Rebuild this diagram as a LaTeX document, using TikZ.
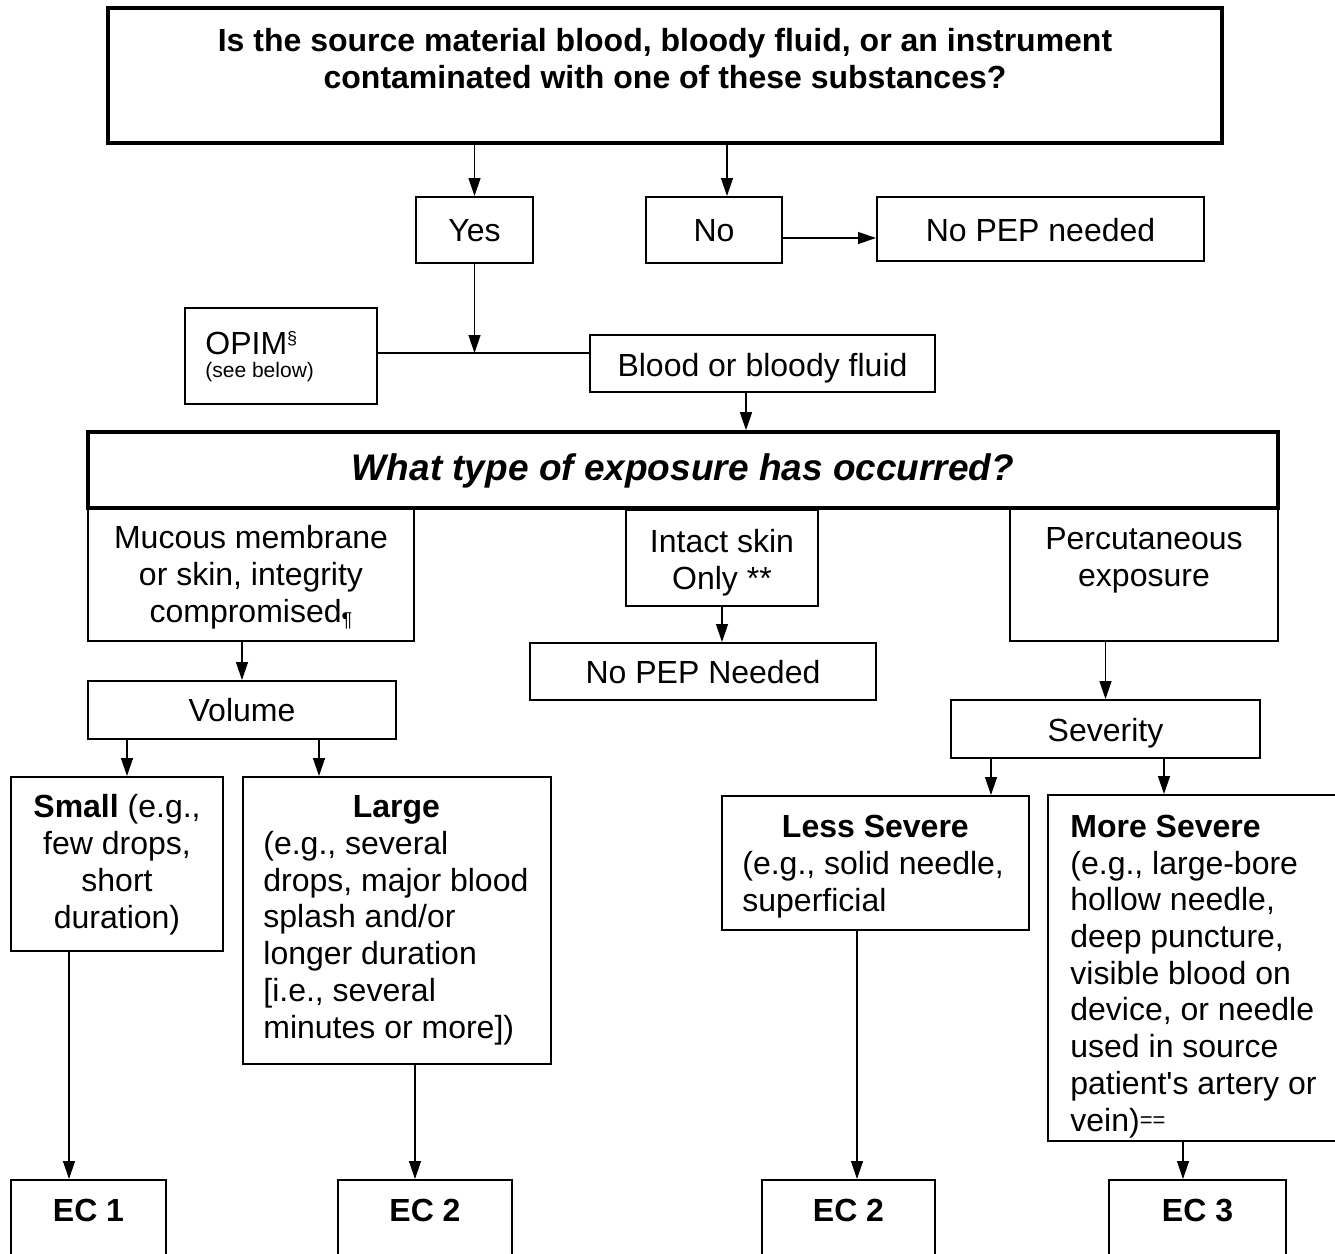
\documentclass[tikz,border=0pt]{standalone}
\usepackage{fontspec}
\setmainfont{Liberation Sans}[Ligatures=TeXOff]
\usetikzlibrary{fit,arrows.meta}
\begin{document}
\begin{tikzpicture}[x=0.5pt,y=-0.5pt,
  box/.style={draw, line width=1pt, inner sep=0pt},
  heavybox/.style={draw, line width=1.8pt, inner sep=0pt},
  txt/.style={inner sep=0pt, font=\fontsize{16}{18.35}\selectfont},
  bigq/.style={inner sep=0pt, font=\fontsize{18.5}{21}\selectfont\bfseries\itshape},
  arr/.style={-{Triangle[length=9pt,width=6pt]}, line width=0.65pt},
  wire/.style={line width=0.65pt}]
\useasboundingbox (0,0) rectangle (1335,1254);
\fill[white] (0,0) rectangle (1335,1254);

% ---- boxes ----
\node[heavybox, fit={(108,8) (1222,143)}] (src) {};
\node[box, fit={(416,197) (533,263)}] (yes) {};
\node[box, fit={(646,197) (782,263)}] (no) {};
\node[box, fit={(877,197) (1204,261)}] (nopepA) {};
\node[box, fit={(185,308) (377,404)}] (opim) {};
\node[box, fit={(590,335) (935,392)}] (blood) {};
\node[heavybox, fit={(88,432) (1278,508)}] (expo) {};
\node[box, fit={(88,508) (414,641)}] (mucous) {};
\node[box, fit={(626,510) (818,606)}] (intact) {};
\node[box, fit={(1010,508) (1278,641)}] (percut) {};
\node[box, fit={(530,643) (876,700)}] (nopepB) {};
\node[box, fit={(88,681) (396,739)}] (volume) {};
\node[box, fit={(951,700) (1260,758)}] (severity) {};
\node[box, fit={(11,777) (223,951)}] (small) {};
\node[box, fit={(243,777) (551,1064)}] (large) {};
\node[box, fit={(722,796) (1029,930)}] (less) {};
\node[box, fit={(1048,795) (1338,1141)}] (more) {};
\node[box, fit={(11,1180) (166,1262)}] (ecA) {};
\node[box, fit={(338,1180) (512,1262)}] (ecB) {};
\node[box, fit={(762,1180) (935,1262)}] (ecC) {};
\node[box, fit={(1109,1180) (1286,1262)}] (ecD) {};

% ---- texts (multi-line nodes are placed by the baseline of their last line) ----
\node[txt, anchor=base, align=center, font=\fontsize{16}{18.35}\selectfont\bfseries] (srct) at (665,88)
  {Is the source material blood, bloody fluid, or an instrument\\contaminated with one of these substances?};
\node[txt, anchor=base] (yest) at (yes.center |- 0,241) {Yes};
\node[txt, anchor=base] (not) at (no.center |- 0,241) {No};
\node[txt, anchor=base] (nopepAt) at (nopepA.center |- 0,241) {No PEP needed};
\node[txt, anchor=base west] (opimt) at (205,354) {OPIM{\fontsize{9}{9}\selectfont\raisebox{5pt}{§}}};
\node[inner sep=0pt, anchor=base west, font=\fontsize{10.5}{12}\selectfont] (opimnote) at (205,377) {(see below)};
\node[txt, anchor=base] (bloodt) at (blood.center |- 0,376) {Blood or bloody fluid};
\node[bigq, anchor=base] (expot) at (expo.center |- 0,480) {What type of exposure has occurred?};
\node[txt, anchor=base, align=center] (mucoust) at (mucous.center |- 0,622)
  {Mucous membrane\\or skin, integrity\\compromised{\fontsize{10}{10}\selectfont\raisebox{-2pt}{¶}}};
\node[txt, anchor=base, align=center] (intactt) at (intact.center |- 0,589) {Intact skin\\Only **};
\node[txt, anchor=base, align=center] (percutt) at (percut.center |- 0,586) {Percutaneous\\exposure};
\node[txt, anchor=base] (nopepBt) at (nopepB.center |- 0,683) {No PEP Needed};
\node[txt, anchor=base] (volumet) at (volume.center |- 0,721) {Volume};
\node[txt, anchor=base] (severityt) at (severity.center |- 0,741) {Severity};
\node[txt, anchor=base, align=center] (smallt) at (small.center |- 0,928)
  {\textbf{Small} (e.g.,\\few drops,\\short\\duration)};
\node[txt, anchor=base west, align=left] (larget) at (263,1038)
  {\makebox[133pt][c]{\textbf{Large}}\\(e.g., several\\drops, major blood\\splash and/or\\longer duration\\{[}i.e., several\\minutes or more])};
\node[txt, anchor=base west, align=left] (lesst) at (742,911)
  {\makebox[133pt][c]{\textbf{Less Severe}}\\(e.g., solid needle,\\superficial};
\node[txt, anchor=base west, align=left] (moret) at (1070,1131)
  {\textbf{More Severe}\\(e.g., large-bore\\hollow needle,\\deep puncture,\\visible blood on\\device, or needle\\used in source\\patient's artery or\\vein){\fontsize{11}{11}\selectfont\raisebox{2pt}{==}}};
\node[txt, anchor=base, font=\fontsize{16}{18.35}\selectfont\bfseries] (ecAt) at (ecA.center |- 0,1221) {EC 1};
\node[txt, anchor=base, font=\fontsize{16}{18.35}\selectfont\bfseries] (ecBt) at (ecB.center |- 0,1221) {EC 2};
\node[txt, anchor=base, font=\fontsize{16}{18.35}\selectfont\bfseries] (ecCt) at (ecC.center |- 0,1221) {EC 2};
\node[txt, anchor=base, font=\fontsize{16}{18.35}\selectfont\bfseries] (ecDt) at (ecD.center |- 0,1221) {EC 3};

% ---- connector columns and junction ----
\coordinate (colNo) at (727,0);
\coordinate (colBlood) at (746,0);
\coordinate (colSmall) at (127,0);
\coordinate (colLarge) at (319,0);
\coordinate (colLess) at (991,0);
\coordinate (colMore) at (1164,0);
\coordinate (colEcA) at (69,0);
\coordinate (colEcB) at (415,0);
\coordinate (colEcC) at (857,0);
\coordinate (colEcD) at (1183,0);
\coordinate (join) at (474.5,353);
\coordinate (rowNo) at (0,238);

% ---- connectors ----
\draw[arr] (yes.north |- src.south) -- (yes.north);
\draw[arr] (src.south -| colNo) -- (no.north -| colNo);
\draw[arr] (no.east |- rowNo) -- (nopepA.west |- rowNo);
\draw[arr] (yes.south) -- (join);
\draw[wire] (opim.east |- join) -- (blood.west |- join);
\draw[arr] (blood.south -| colBlood) -- (expo.north -| colBlood);
\draw[arr] (intact.south) -- (intact.south |- nopepB.north);
\draw[arr] (volume.north |- mucous.south) -- (volume.north);
\draw[arr] (severity.north |- percut.south) -- (severity.north);
\draw[arr] (volume.south -| colSmall) -- (small.north -| colSmall);
\draw[arr] (volume.south -| colLarge) -- (large.north -| colLarge);
\draw[arr] (severity.south -| colLess) -- (less.north -| colLess);
\draw[arr] (severity.south -| colMore) -- (more.north -| colMore);
\draw[arr] (small.south -| colEcA) -- (ecA.north -| colEcA);
\draw[arr] (large.south -| colEcB) -- (ecB.north -| colEcB);
\draw[arr] (less.south -| colEcC) -- (ecC.north -| colEcC);
\draw[arr] (more.south -| colEcD) -- (ecD.north -| colEcD);
\end{tikzpicture}
\end{document}
